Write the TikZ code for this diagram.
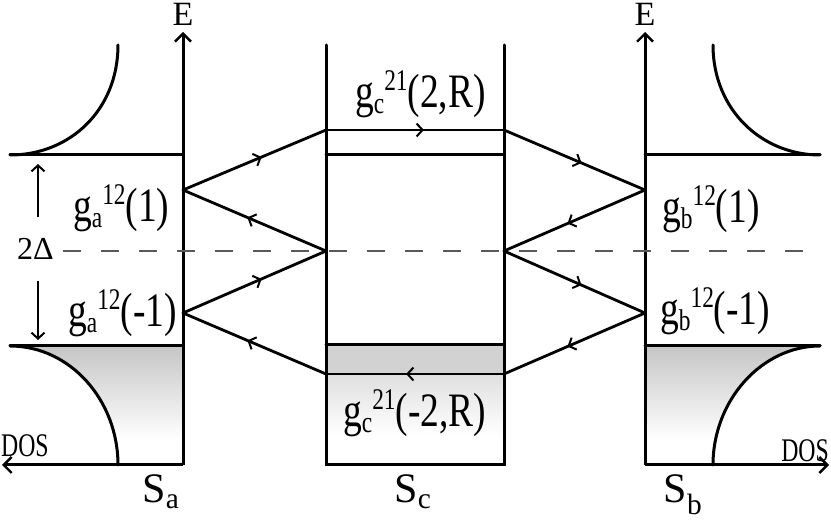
\documentclass[tikz,border=0pt]{standalone}
\usepackage{fontspec}
\setmainfont{Liberation Serif}
\usetikzlibrary{arrows.meta,decorations.markings}

% g with sub- and superscript, as in the reference labels
\newcommand{\gfun}[3]{g\raisebox{-0.12em}{\fontsize{30}{30}\selectfont #1}\raisebox{0.36em}{\fontsize{30}{30}\selectfont #2}#3}

\tikzset{
	wall/.style={line width=3pt, line cap=round},
	ray/.style={line width=2.8pt, line cap=round, postaction={decorate},
		decoration={markings, mark=at position 0.55 with {\arrow{Straight Barb[length=6pt,width=13pt,line width=2pt]}}}},
	axis/.style={line width=3pt, -{Straight Barb[length=8pt,width=16pt,line width=2.4pt]}},
	glabel/.style={font=\fontsize{48}{52}\selectfont, xscale=0.78, inner sep=0pt, anchor=base west},
	slabel/.style={font=\fontsize{42}{46}\selectfont, inner sep=0pt, anchor=base},
	elabel/.style={font=\fontsize{34}{36}\selectfont, inner sep=0pt, anchor=base},
	doslabel/.style={font=\fontsize{33}{36}\selectfont, xscale=0.72, inner sep=0pt},
}

\begin{document}
\begin{tikzpicture}[x=1pt,y=-1pt]
	\useasboundingbox (0,0) rectangle (831,521);
	% shaded bands
	\begin{scope}
		\clip (183,346) -- (10,346) .. controls (70,346) and (118,400) .. (118,465) -- (183,465) -- cycle;
		\shade[top color=gray!45, bottom color=white] (10,346) rectangle (183,440);
	\end{scope}
	\begin{scope}
		\clip (645,346) -- (820,346) .. controls (762,346) and (713,400) .. (713,465) -- (645,465) -- cycle;
		\shade[top color=gray!45, bottom color=white] (645,346) rectangle (820,440);
	\end{scope}
	\fill[gray!35] (326,345) rectangle (504,374);
	\shade[top color=gray!25, bottom color=white] (326,374) rectangle (504,435);

	% named points
	\coordinate (oa) at (183,465);
	\coordinate (ta) at (183,32);
	\coordinate (da) at (2,465);
	\coordinate (ob) at (645,465);
	\coordinate (tb) at (645,32);
	\coordinate (db) at (829,465);
	\coordinate (a1) at (183,190);
	\coordinate (a2) at (183,313);
	\coordinate (b1) at (645,190);
	\coordinate (b2) at (645,313);
	\coordinate (cl0) at (326,130);
	\coordinate (cl1) at (326,251);
	\coordinate (cl2) at (326,374);
	\coordinate (cr0) at (504,130);
	\coordinate (cr1) at (504,251);
	\coordinate (cr2) at (504,374);
	\coordinate (dl) at (63,251);
	\coordinate (dr) at (806,251);
	\coordinate (up0) at (38,217);
	\coordinate (up1) at (38,164);
	\coordinate (dn0) at (38,281);
	\coordinate (dn1) at (38,340);

	% S_a
	\draw[wall] (10,155) -- (183,155);
	\draw[wall] (10,155) .. controls (70,155) and (118,110) .. (118,45);
	\draw[wall] (10,346) -- (183,346);
	\draw[wall] (10,346) .. controls (70,346) and (118,400) .. (118,465);
	\draw[axis] (oa) -- (ta);
	\draw[axis] (oa) -- (da);
	% S_b
	\draw[wall] (645,155) -- (820,155);
	\draw[wall] (820,155) .. controls (762,155) and (713,110) .. (713,45);
	\draw[wall] (645,346) -- (820,346);
	\draw[wall] (820,346) .. controls (762,346) and (713,400) .. (713,465);
	\draw[axis] (ob) -- (tb);
	\draw[axis] (ob) -- (db);
	% S_c
	\draw[wall] (326,45) -- (326,465) -- (504,465) -- (504,45);
	\draw[wall] (326,155) -- (504,155);
	\draw[wall] (326,345) -- (504,345);

	% paths
	\draw[ray] (a1) -- (cl0);
	\draw[ray] (cl0) -- (cr0);
	\draw[ray] (cr0) -- (b1);
	\draw[ray] (b1) -- (cr1);
	\draw[ray] (cr1) -- (b2);
	\draw[ray] (b2) -- (cr2);
	\draw[ray] (cr2) -- (cl2);
	\draw[ray] (cl2) -- (a2);
	\draw[ray] (a2) -- (cl1);
	\draw[ray] (cl1) -- (a1);

	\draw[black!65, line width=2.2pt, dash pattern=on 18pt off 20pt] (dl) -- (dr);
	\draw[line width=2.2pt, -{Straight Barb[length=6pt,width=13pt,line width=2pt]}] (up0) -- (up1);
	\draw[line width=2.2pt, -{Straight Barb[length=6pt,width=13pt,line width=2pt]}] (dn0) -- (dn1);

	% labels
	\node[elabel] (Ea) at (183,26) {E};
	\node[elabel] (Eb) at (645,26) {E};
	\node[doslabel, anchor=base west] (dosa) at (1,457) {DOS};
	\node[doslabel, anchor=base east] (dosb) at (829,462) {DOS};
	\node[font=\fontsize{32}{36}\selectfont, inner sep=0pt, anchor=base west] (gap) at (17,260) {2Δ};
	\node[glabel] (ga1) at (73,222) {\gfun{a}{12}{(1)}};
	\node[glabel] (ga2) at (68,327) {\gfun{a}{12}{(-1)}};
	\node[glabel] (gb1) at (662,223) {\gfun{b}{12}{(1)}};
	\node[glabel] (gb2) at (660,325) {\gfun{b}{12}{(-1)}};
	\node[glabel] (gc1) at (355,108) {\gfun{c}{21}{(2,R)}};
	\node[glabel] (gc2) at (343,427) {\gfun{c}{21}{(-2,R)}};
	\node[slabel] (Sa) at (161,503) {S\textsubscript{a}};
	\node[slabel] (Sc) at (413,503) {S\textsubscript{c}};
	\node[slabel] (Sb) at (683,503) {S\textsubscript{b}};
\end{tikzpicture}
\end{document}
